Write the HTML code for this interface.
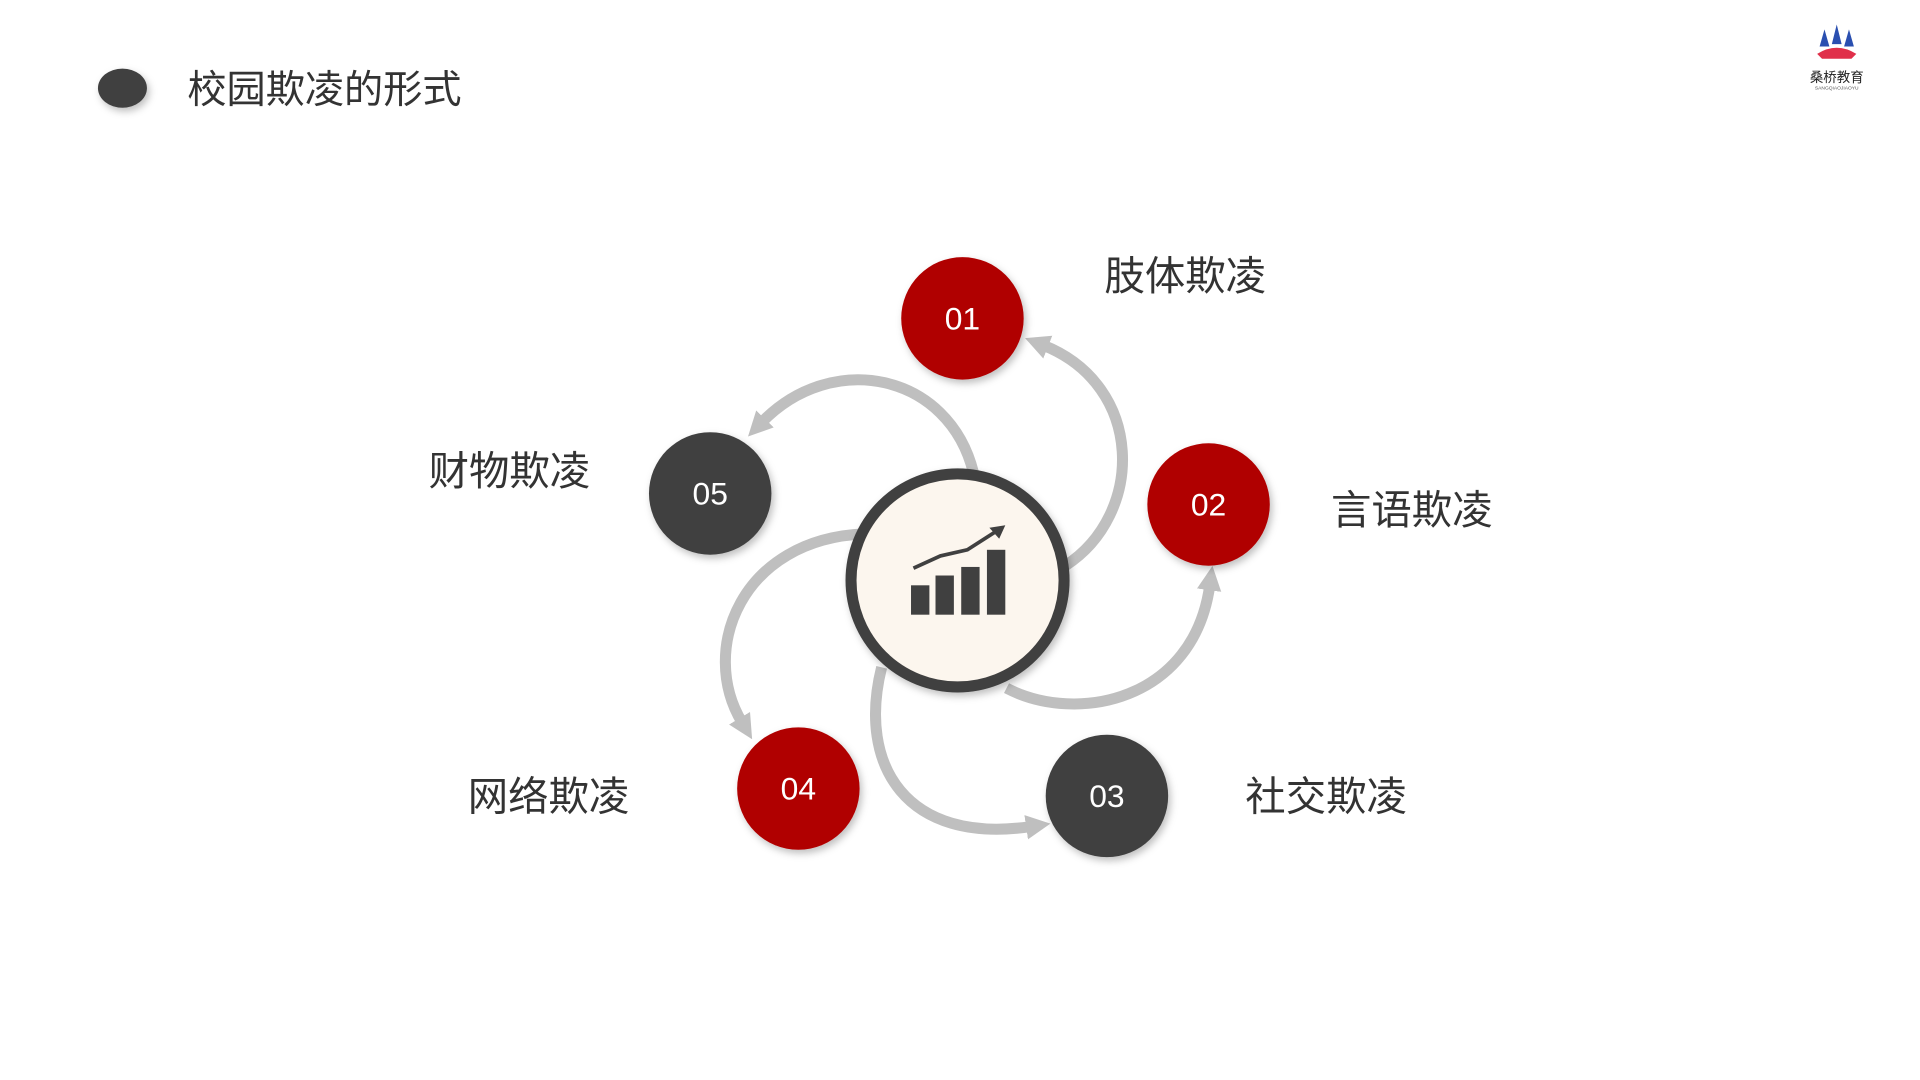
<!DOCTYPE html>
<html><head><meta charset="utf-8"><style>
html,body{margin:0;padding:0;background:#fff;}
svg{display:block;}
text{font-family:"Liberation Sans","Noto Sans CJK SC",sans-serif;}
</style></head><body>
<svg width="1920" height="1080" viewBox="0 0 1568 882" xmlns="http://www.w3.org/2000/svg">
<defs>
<marker id="ah" markerUnits="userSpaceOnUse" markerWidth="26" markerHeight="26" refX="4" refY="10" orient="auto">
<path d="M0,0 L20,10 L0,20 Z" fill="#bfbfbf"/>
</marker>
<filter id="sh" x="-30%" y="-30%" width="160%" height="160%"><feDropShadow dx="2" dy="3" stdDeviation="3" flood-color="#000" flood-opacity="0.25"/></filter>
</defs>
<ellipse cx="100" cy="72" rx="20" ry="16" fill="#404040" filter="url(#sh)"/>
<text x="153" y="84" font-size="32" fill="#333">校园欺凌的形式</text>

<!-- logo -->
<g transform="translate(1500,40)">
<path d="M-14,-2 L-10,-16 L-6,-2 Z M-4,-4 L0,-20 L4,-4 Z M6,-2 L10,-16 L14,-2 Z" fill="#2a4fb0"/>
<path d="M-16,4 Q0,-6 16,4 L12,8 L-12,8 Z" fill="#e0304a"/>
<text x="0" y="27" font-size="11" text-anchor="middle" fill="#222">桑桥教育</text>
<text x="0" y="33" font-size="4" text-anchor="middle" fill="#555">SANGQIAOJIAOYU</text>
</g>

<!-- arrows -->
<g fill="none" stroke="#bfbfbf" stroke-width="9">
<path d="M870 462 C935 420, 935 315, 852 282" marker-end="url(#ah)"/>
<path d="M795 386 C775 305, 680 285, 622 345" marker-end="url(#ah)"/>
<path d="M706 436 C606 440, 570 530, 606 590" marker-end="url(#ah)"/>
<path d="M720 545 C700 625, 740 690, 842 675" marker-end="url(#ah)"/>
<path d="M822 562 C880 592, 975 572, 988 478" marker-end="url(#ah)"/>
</g>

<!-- center -->
<circle cx="782" cy="474" r="87" fill="#fcf6ee" stroke="#404040" stroke-width="9" filter="url(#sh)"/>
<g fill="#404040">
<rect x="744" y="478" width="15" height="24"/>
<rect x="764" y="470" width="15" height="32"/>
<rect x="785" y="463" width="15" height="39"/>
<rect x="806" y="449" width="15" height="53"/>
</g>
<path d="M746 464 L768 454 L790 449 L804 440 L815 433" stroke="#404040" stroke-width="3" fill="none"/>
<path d="M821 429 L808 431 L816 440 Z" fill="#404040"/>

<!-- nodes -->
<g filter="url(#sh)">
<circle cx="786" cy="260" r="50" fill="#b00000"/>
<circle cx="987" cy="412" r="50" fill="#b00000"/>
<circle cx="904" cy="650" r="50" fill="#404040"/>
<circle cx="652" cy="644" r="50" fill="#b00000"/>
<circle cx="580" cy="403" r="50" fill="#404040"/>
</g>
<g font-size="26" fill="#fff" text-anchor="middle">
<text x="786" y="269">01</text>
<text x="987" y="421">02</text>
<text x="904" y="659">03</text>
<text x="652" y="653">04</text>
<text x="580" y="412">05</text>
</g>
<g font-size="33" fill="#333">
<text x="902" y="237">肢体欺凌</text>
<text x="1087" y="428">言语欺凌</text>
<text x="1017" y="662">社交欺凌</text>
<text x="382" y="662">网络欺凌</text>
<text x="350" y="396">财物欺凌</text>
</g>
</svg>
</body></html>
